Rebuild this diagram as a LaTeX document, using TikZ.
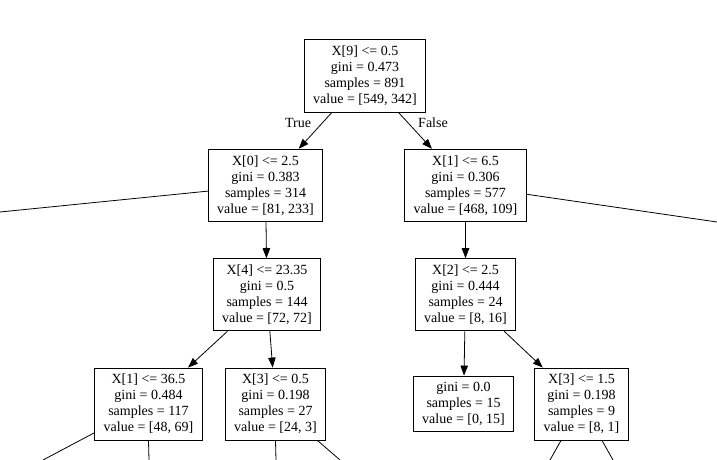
\documentclass[tikz,border=0pt]{standalone}
\usepackage{fontspec}
\setmainfont{Liberation Serif}
\usetikzlibrary{positioning,arrows.meta}
\tikzset{%
  tnode/.style={%
    draw=black,
    line width=0.8pt,
    rectangle,
    align=center,
    inner xsep=9pt,
    inner ysep=6.2pt,
    font=\fontsize{14}{16}\selectfont%
  },
  elabel/.style={%
    font=\fontsize{14}{16}\selectfont,
    inner sep=0pt%
  },
  tedge/.style={%
    line width=0.8pt,
    -{Triangle[length=10pt,width=7.5pt]}%
  },
  oedge/.style={%
    line width=0.8pt%
  }
}

\begin{document}
\begin{tikzpicture}[x=1pt,y=-1pt]
      \useasboundingbox (0,0) rectangle (717,460);
      \node[tnode] at (365,76) (root) {X[9] <= 0.5\\gini = 0.473\\samples = 891\\value = [549, 342]};
      \node[tnode, below = 36.3pt of root, xshift=-99.5pt] (x0) {X[0] <= 2.5\\gini = 0.383\\samples = 314\\value = [81, 233]};
      \node[tnode, below = 36.3pt of root, xshift=100.5pt] (x1) {X[1] <= 6.5\\gini = 0.306\\samples = 577\\value = [468, 109]};
      \node[tnode, below = 36.3pt of x0, xshift=1.5pt] (x4) {X[4] <= 23.35\\gini = 0.5\\samples = 144\\value = [72, 72]};
      \node[tnode, below = 36.3pt of x1] (x2) {X[2] <= 2.5\\gini = 0.444\\samples = 24\\value = [8, 16]};
      \node[tnode, below = 36.3pt of x4, xshift=-118.5pt] (x1b) {X[1] <= 36.5\\gini = 0.484\\samples = 117\\value = [48, 69]};
      \node[tnode, below = 36.3pt of x4, xshift=8.5pt] (x3) {X[3] <= 0.5\\gini = 0.198\\samples = 27\\value = [24, 3]};
      \node[tnode, below = 44.3pt of x2, xshift=-2pt] (leaf) {gini = 0.0\\samples = 15\\value = [0, 15]};
      \node[tnode, below = 36.3pt of x2, xshift=116pt] (x3b) {X[3] <= 1.5\\gini = 0.198\\samples = 9\\value = [8, 1]};

      \node[elabel] at (298,123) (ltrue) {True};
      \node[elabel] at (433,123) (lfalse) {False};

      % ends of the edges that leave the picture
      \coordinate (x0out) at (0,212);
      \coordinate (x1out) at (717,222);
      \coordinate (x1bl) at (43,460);
      \coordinate (x1br) at (149,460);
      \coordinate (x3l) at (276,460);
      \coordinate (x3r) at (340,460);
      \coordinate (x3bl) at (550,460);
      \coordinate (x3br) at (613,460);

      \path[tedge]
        (root) edge (x0)
        (root) edge (x1)
        (x0) edge (x4)
        (x1) edge (x2)
        (x4) edge (x1b)
        (x4) edge (x3)
        (x2) edge (leaf)
        (x2) edge (x3b);
      \path[oedge]
        (x0) edge (x0out)
        (x1) edge (x1out)
        (x1b) edge (x1bl)
        (x1b.south) edge (x1br)
        (x3.south) edge (x3l)
        (x3) edge (x3r)
        (x3b) edge (x3bl)
        (x3b) edge (x3br);
    \end{tikzpicture}
\end{document}
